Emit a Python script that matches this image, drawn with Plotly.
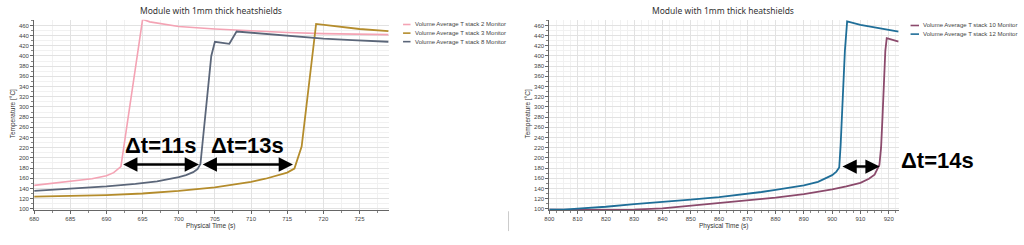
import plotly.graph_objects as go

# ---------------- data ----------------
# Left panel
t_stack2 = [680, 682, 684, 686, 688, 690, 691, 692, 695, 696, 698, 700, 705, 710, 715, 720, 725, 729]
T_stack2 = [146, 149, 152, 155, 159, 165, 171, 183, 472, 467, 462, 458, 453, 449, 446, 444, 443, 442]

t_stack3 = [680, 685, 690, 695, 700, 705, 708, 710, 712, 714, 715, 716, 717, 719, 722, 725, 729]
T_stack3 = [124, 125, 127, 130, 135, 142, 148, 153, 159, 166, 171, 179, 222, 463, 458, 453, 449]

t_stack8 = [680, 685, 690, 694, 697, 700, 701, 702, 702.6, 703, 703.5, 704, 704.5, 705, 707, 708, 712, 716, 720, 724, 729]
T_stack8 = [135, 139, 144, 149, 154, 162, 166, 172, 178, 188, 255, 335, 400, 428, 424, 448, 443, 438, 434, 431, 428]

# Right panel
t_stack10 = [800, 805, 810, 820, 830, 840, 850, 860, 870, 880, 890, 895, 900, 905, 910, 913, 915, 916.7, 917.3, 917.8, 918.3, 918.8, 919.3, 921, 923.5]
T_stack10 = [98.5, 97.8, 97.8, 97.8, 98.5, 101, 106, 111, 116, 122, 129, 133, 138, 144, 151, 159, 167, 186, 220, 280, 350, 410, 435, 432, 428]

t_stack12 = [800, 805, 810, 820, 830, 840, 850, 860, 870, 875, 880, 885, 890, 895, 898, 900, 901.5, 902.5, 903, 903.5, 904, 904.5, 905.3, 907, 910, 915, 920, 923.5]
T_stack12 = [98.5, 98.5, 100.5, 104, 109, 113, 118, 123, 129, 133, 137, 141, 146, 153, 160, 166, 173, 181, 225, 290, 350, 410, 468, 465, 461, 456, 451, 448]

# onset times of thermal runaway used for the delta-t arrows
onset_left = [692, 703, 716]
onset_right = [903, 917]
arrow_T_left = 187
arrow_T_right = 183

title_text = "Module with 1mm thick heatshields"
x_title = "Physical Time (s)"
y_title = "Temperature [°C]"

left_series = [
    ("Volume Average T stack 2 Monitor", t_stack2, T_stack2, "#f4a3b4", 1.6),
    ("Volume Average T stack 3 Monitor", t_stack3, T_stack3, "#b48c2c", 1.8),
    ("Volume Average T stack 8 Monitor", t_stack8, T_stack8, "#5b6679", 1.8),
]
right_series = [
    ("Volume Average T stack 10 Monitor", t_stack10, T_stack10, "#8b4a6c", 1.8),
    ("Volume Average T stack 12 Monitor", t_stack12, T_stack12, "#1f6e98", 1.8),
]

W, H = 1024, 245
SMALL = "Liberation Sans, Arial, sans-serif"
TITLE_FONT = "Noto Sans, Open Sans, sans-serif"

fig = go.Figure()
for name, t, T, c, w in left_series:
    fig.add_trace(go.Scatter(x=t, y=T, mode="lines", name=name, line=dict(color=c, width=w),
                             xaxis="x", yaxis="y", showlegend=False))
for name, t, T, c, w in right_series:
    fig.add_trace(go.Scatter(x=t, y=T, mode="lines", name=name, line=dict(color=c, width=w),
                             xaxis="x2", yaxis="y2", showlegend=False))

y_bot = (H - 211.7) / H
y_top = (H - 20) / H
common_axis = dict(
    showgrid=True, gridcolor="#e2e2e2", gridwidth=1,
    showline=True, linecolor="#666666", linewidth=1,
    ticks="outside", ticklen=3, tickcolor="#666666",
    tickfont=dict(family=SMALL, size=6, color="#444444"),
    zeroline=False,
)
yaxis_common = dict(common_axis, range=[97.7, 471], dtick=20, tick0=100,
                    minor=dict(dtick=10, showgrid=True, gridcolor="#f1f1f1", ticks="outside", ticklen=2, tickcolor="#888888"))

fig.update_layout(
    width=W, height=H, margin=dict(l=0, r=0, t=0, b=0),
    paper_bgcolor="white", plot_bgcolor="white",
    xaxis=dict(common_axis, domain=[29.3 / W, 386 / W], range=[680, 729.1], dtick=5, tick0=680,
               minor=dict(dtick=2.5, showgrid=True, gridcolor="#f1f1f1", ticks="outside", ticklen=2, tickcolor="#888888"),
               anchor="y"),
    yaxis=dict(yaxis_common, domain=[y_bot, y_top], anchor="x"),
    xaxis2=dict(common_axis, domain=[547 / W, 898 / W], range=[800, 923.5], dtick=10, tick0=800,
                minor=dict(dtick=2.5, showgrid=True, gridcolor="#f1f1f1", ticks="outside", ticklen=2, tickcolor="#888888"),
                anchor="y2"),
    yaxis2=dict(yaxis_common, domain=[y_bot, y_top], anchor="x2"),
    showlegend=False,
)

ann = []
# titles
for cx in (207, 722):
    ann.append(dict(x=cx / W, y=(H - 11) / H, xref="paper", yref="paper", text=title_text, showarrow=False,
                    font=dict(family=TITLE_FONT, size=8.5, color="#333333"), xanchor="center", yanchor="middle"))
# x axis titles
for cx in (207, 722):
    ann.append(dict(x=cx / W, y=(H - 228) / H, xref="paper", yref="paper", text=x_title, showarrow=False,
                    font=dict(family=SMALL, size=6.5, color="#333333"), xanchor="center", yanchor="middle"))
# y axis titles
for cx in (8.3, 526):
    ann.append(dict(x=cx / W, y=(H - 115) / H, xref="paper", yref="paper", text=y_title, showarrow=False,
                    textangle=-90, font=dict(family=SMALL, size=6.5, color="#333333"),
                    xanchor="center", yanchor="middle"))

# manual legends
shapes = []
def add_legend(series, x0, x1, ys):
    for (name, t, T, c, w), yy in zip(series, ys):
        shapes.append(dict(type="line", xref="paper", yref="paper", x0=x0 / W, x1=x1 / W,
                           y0=(H - yy) / H, y1=(H - yy) / H, line=dict(color=c, width=1.6)))
        ann.append(dict(x=(x1 + 2) / W, y=(H - yy) / H, xref="paper", yref="paper", text=name, showarrow=False,
                        xanchor="left", yanchor="middle", font=dict(family=SMALL, size=6, color="#444444")))

add_legend(left_series, 400, 407.5, [24.7, 33.4, 42])
add_legend(right_series, 910, 918.5, [25.7, 34.4])

# delta-t arrows and labels (left)
for a, b in zip(onset_left[:-1], onset_left[1:]):
    ann.append(dict(x=b - 0.2, y=arrow_T_left, ax=a + 0.1, ay=arrow_T_left, xref="x", yref="y", axref="x", ayref="y",
                    text="", showarrow=True, arrowside="end+start", arrowhead=2, arrowsize=1.1,
                    arrowwidth=2.6, arrowcolor="black"))
    ann.append(dict(x=(a + b) / 2, y=arrow_T_left + 37, xref="x", yref="y",
                    text="<b>\u0394t=%ds</b>" % (b - a), showarrow=False,
                    font=dict(family=SMALL, size=22, color="black"), xanchor="center", yanchor="middle"))
# right
a, b = onset_right
ann.append(dict(x=b - 0.2, y=arrow_T_right, ax=a + 0.1, ay=arrow_T_right, xref="x2", yref="y2", axref="x2", ayref="y2",
                text="", showarrow=True, arrowside="end+start", arrowhead=2, arrowsize=1.1,
                arrowwidth=2.6, arrowcolor="black"))
ann.append(dict(x=937 / W, y=(H - 162) / H, xref="paper", yref="paper",
                text="<b>\u0394t=%ds</b>" % (b - a), showarrow=False,
                font=dict(family=SMALL, size=22, color="black"), xanchor="center", yanchor="middle"))

# thin separator between the two screenshots
shapes.append(dict(type="line", xref="paper", yref="paper", x0=506 / W, x1=506 / W,
                   y0=(H - 233) / H, y1=(H - 213) / H, line=dict(color="#cccccc", width=1)))

fig.update_layout(annotations=ann, shapes=shapes)
fig.write_html("out.html")
